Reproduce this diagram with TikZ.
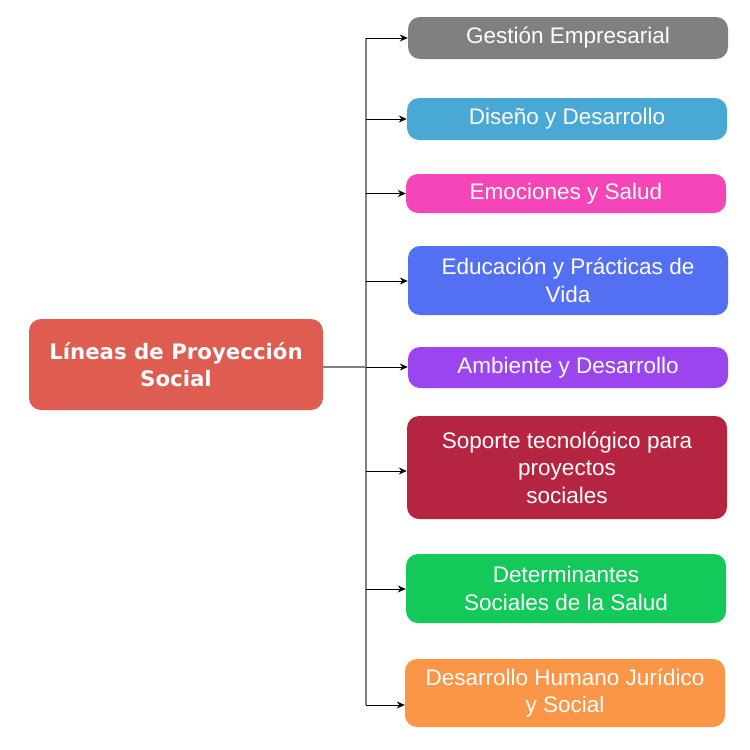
\documentclass[tikz,border=0pt]{standalone}
\usepackage{fontspec}
\setmainfont{Liberation Sans}
\newfontfamily\rootfont{DejaVu Sans}
\definecolor{lpgray}{RGB}{128,128,128}
\definecolor{lpsky}{RGB}{74,168,212}
\definecolor{lppink}{RGB}{246,69,184}
\definecolor{lpblue}{RGB}{84,112,242}
\definecolor{lppurple}{RGB}{155,69,238}
\definecolor{lpcrimson}{RGB}{181,37,66}
\definecolor{lpgreen}{RGB}{19,201,90}
\definecolor{lporange}{RGB}{251,149,71}
\definecolor{lpred}{RGB}{222,92,80}
\usetikzlibrary{arrows.meta,positioning}

\begin{document}
\begin{tikzpicture}[
  x=1pt,y=-1pt,
  box/.style={rounded corners=12pt,minimum width=320pt,text=white,align=center,
    font=\fontsize{22.5}{27.5}\selectfont,inner sep=0pt},
  arr/.style={-{Stealth[length=8pt,width=7pt]},line width=1pt},
  trunk/.style={draw=lpgray,line width=2pt}
]
  \useasboundingbox (0,0) rectangle (750,750);
  % Root
  \node[box,fill=lpred,minimum width=294pt,minimum height=91pt,
    font=\rootfont\bfseries\fontsize{21.3}{27}\selectfont] (root) at (176,364.5)
    {Líneas de Proyección\\Social};
  % Lines
  \node[box,fill=lpgray,minimum height=42pt] (gest) at (568,38) {Gestión Empresarial};
  \node[box,fill=lpsky,minimum height=42pt] (dise) at (567,119) {Diseño y Desarrollo};
  \node[box,fill=lppink,minimum height=39pt] (emoc) at (566,193.5) {Emociones y Salud};
  \node[box,fill=lpblue,minimum height=69pt] (educ) at (568,280.5) {Educación y Prácticas de\\Vida};
  \node[box,fill=lppurple,minimum height=41pt] (ambi) at (568,367.5) {Ambiente y Desarrollo};
  \node[box,fill=lpcrimson,minimum height=103pt] (sopo) at (567,467.5) {Soporte tecnológico para\\proyectos\\ sociales};
  \node[box,fill=lpgreen,minimum height=69pt] (dete) at (566,588.5) {Determinantes\\Sociales de la Salud};
  \node[box,fill=lporange,minimum height=68pt] (desa) at (565,693) {Desarrollo Humano Jurídico\\y Social};
  % Trunk
  \coordinate (top) at (366,38);
  \coordinate (bot) at (366,705);
  \coordinate (hub) at (366,367);
  \draw[trunk] (top) -- (bot);
  \draw[trunk,line width=1.5pt] (root.east |- hub) -- (hub);
  % Arrows
  \draw[arr] (top) -- (top -| gest.west);
  \draw[arr] (366,119) -- (dise.west);
  \draw[arr] (366,193.5) -- (emoc.west);
  \draw[arr] (366,281) -- (educ.west |- 0,281);
  \draw[arr] (hub) -- (hub -| ambi.west);
  \draw[arr] (366,471) -- (sopo.west |- 0,471);
  \draw[arr] (366,589) -- (dete.west |- 0,589);
  \draw[arr] (bot) -- (bot -| desa.west);
\end{tikzpicture}
\end{document}
